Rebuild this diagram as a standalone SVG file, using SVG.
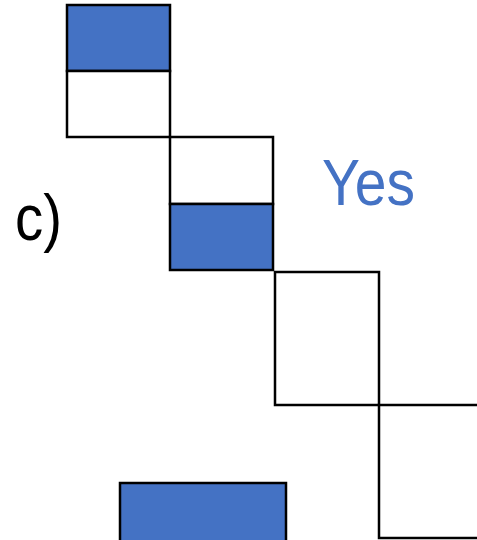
<svg xmlns="http://www.w3.org/2000/svg" width="477" height="540" viewBox="0 0 477 540">
<style>
.b{fill:#4472C4;stroke:#000;stroke-width:2.5}
.w{fill:#fff;stroke:#000;stroke-width:2.5}
.t{font-family:"Liberation Sans",Arial,sans-serif}
</style>
<rect width="477" height="540" fill="#fff"/>
<g id="box1">
<rect class="b" x="67" y="5" width="103" height="66"/>
<rect class="w" x="67" y="71" width="103" height="66"/>
</g>
<g id="box2">
<rect class="w" x="170" y="137" width="103" height="67"/>
<rect class="b" x="170" y="204" width="103" height="66"/>
</g>
<g id="box3">
<rect class="w" x="275" y="272" width="104" height="133"/>
</g>
<g id="box4">
<path class="w" d="M480 405 H379 V538 H480"/>
</g>
<g id="box5">
<path class="b" d="M120 545 V483 H286 V545"/>
</g>
<text class="t" x="15" y="240" font-size="64" fill="#000" textLength="47" lengthAdjust="spacingAndGlyphs">c)</text>
<text class="t" x="322" y="205" font-size="64" fill="#4472C4" textLength="93" lengthAdjust="spacingAndGlyphs">Yes</text>
</svg>
